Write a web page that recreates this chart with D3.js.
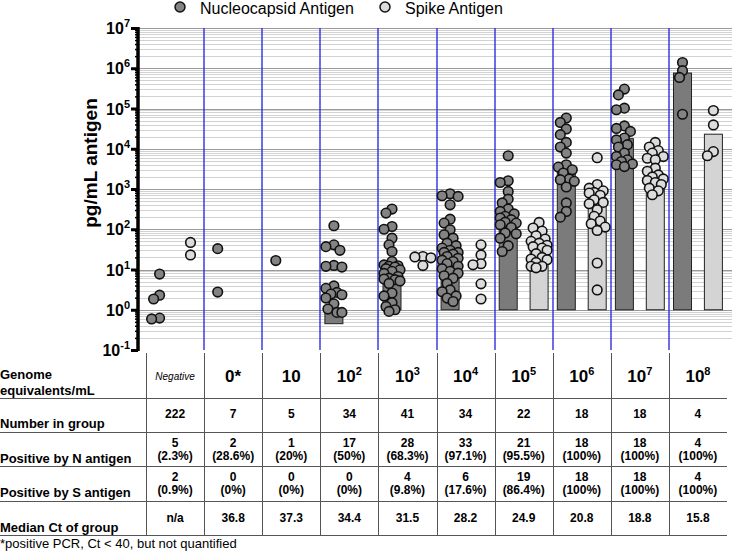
<!DOCTYPE html>
<html>
<head>
<meta charset="utf-8">
<title>Antigen by genome equivalents</title>
<script src="https://cdnjs.cloudflare.com/ajax/libs/d3/7.8.5/d3.min.js"></script>
<style>
  body { margin: 0; background: #fff; }
  svg { font-family: "Liberation Sans", Arial, sans-serif; }
  .grid-minor { stroke: #d2d2d2; stroke-width: 1; }
  .grid-major { stroke: #9a9a9a; stroke-width: 1; }
  .sep { stroke: #2f2fe0; stroke-width: 1.4; }
  .tline { stroke: #555; stroke-width: 1; }
</style>
</head>
<body>
<svg id="chart" width="740" height="551"></svg>
<script>
// header labels, "^" marks the exponent
var groupLabels = ["Negative", "0*", "10", "10^2", "10^3", "10^4", "10^5", "10^6", "10^7", "10^8"];

// pg/mL antigen, one array per group
var nPoints = [
  [7.7, 2.3, 1.85, 0.62, 0.59],
  [33, 2.75],
  [16.7],
  [122, 41, 37, 30, 12.6, 12, 11.5, 3.9, 3.4, 2.7, 2.45, 2.36, 1.95, 1.4, 1.04, 0.86, 0.86],
  [317, 252, 117, 100, 60, 41, 28, 15.8, 13, 12.4, 12, 11.5, 10.5, 9.8, 9, 8, 6.7, 6.1, 5.8, 5.6, 5.2, 4.5, 2.6, 2.2, 1.5, 1.2, 1.0, 0.91],
  [760, 680, 655, 405, 178, 142, 97, 73, 60, 45, 39, 34, 30, 26.6, 26.6, 24, 21, 19, 17, 15.8, 14, 12, 10.5, 9, 8.1, 7, 6.1, 4.5, 3.1, 2.8, 2.2, 1.95, 1.6],
  [6700, 1600, 1450, 870, 560, 450, 317, 277, 240, 209, 190, 173, 150, 142, 129, 110, 81, 77, 60, 39, 28],
  [58000, 45000, 31000, 22400, 14400, 11000, 7800, 4000, 3500, 3000, 2500, 1780, 1700, 1550, 1120, 450, 277, 200],
  [303000, 218000, 102000, 93000, 37000, 32000, 27000, 18500, 16600, 12600, 11000, 7800, 6400, 5300, 4800, 4200, 4000, 3600],
  [1390000, 870000, 590000, 72000]
];
var sPoints = [
  [47, 23],
  [],
  [],
  [],
  [21, 20.5, 19.5, 12.5],
  [41, 23, 13.9, 13.1, 4.4, 1.85],
  [148, 107, 90, 69, 57, 50, 45, 40, 37, 34, 30, 24.7, 20, 18.2, 17.5, 15, 12, 12, 11],
  [6000, 1290, 1050, 900, 820, 790, 700, 540, 465, 430, 305, 209, 160, 137, 113, 93, 14.5, 3.1],
  [14400, 11000, 9000, 7800, 6400, 5800, 5300, 3300, 2750, 2240, 2000, 1780, 1620, 1450, 1290, 1050, 900, 720],
  [89000, 39000, 8500, 6700]
];
// median bars (null = no bar)
var nMedian = [null, null, null, 0.45, 6.2, 20, 150, 3000, 17800, 760000];
var sMedian = [null, null, null, null, null, null, 45, 600, 2000, 23000];

// table
var numberInGroup = [222, 7, 5, 34, 41, 34, 22, 18, 18, 4];
var posNCount = [5, 2, 1, 17, 28, 33, 21, 18, 18, 4];
var posNPct = ["2.3%", "28.6%", "20%", "50%", "68.3%", "97.1%", "95.5%", "100%", "100%", "100%"];
var posSCount = [2, 0, 0, 0, 4, 6, 19, 18, 18, 4];
var posSPct = ["0.9%", "0%", "0%", "0%", "9.8%", "17.6%", "86.4%", "100%", "100%", "100%"];
var medianCt = ["n/a", "36.8", "37.3", "34.4", "31.5", "28.2", "24.9", "20.8", "18.8", "15.8"];

var decades = d3.range(-1, 8);

var svg = d3.select("#chart");
var plotTop = 28, plotBottom = 350, plotLeft = 138, plotRight = 732;

var y = d3.scaleLog().domain([0.1, 1e7]).range([plotBottom, plotTop]);
var x = d3.scaleBand().domain(d3.range(groupLabels.length)).range([146, 727]);
var sub = d3.scalePoint().domain(["N", "S"]).range([0, x.bandwidth()]).padding(0.44);

var colors = { N: "#838383", S: "#dcdcdc" };
var barColors = { N: "#7b7b7b", S: "#d4d4d4" };
var r = 4.8, barW = 18;

function sup(sel, label, supSize, lift) {
  var parts = label.split("^");
  sel.append("tspan").text(parts[0]);
  if (parts[1]) sel.append("tspan").attr("dy", -lift).attr("font-size", supSize).text(parts[1]);
}

// gridlines
var minors = [];
decades.slice(0, -1).forEach(function(d) {
  for (var k = 2; k < 10; k++) minors.push(k * Math.pow(10, d));
});
svg.append("g").selectAll("line").data(minors).enter().append("line")
  .attr("class", "grid-minor")
  .attr("x1", plotLeft).attr("x2", plotRight)
  .attr("y1", function(d) { return Math.round(y(d)) + 0.5; })
  .attr("y2", function(d) { return Math.round(y(d)) + 0.5; });
svg.append("g").selectAll("line").data(decades.slice(1)).enter().append("line")
  .attr("class", "grid-major")
  .attr("x1", plotLeft).attr("x2", plotRight)
  .attr("y1", function(d) { return Math.round(y(Math.pow(10, d))) + 0.5; })
  .attr("y2", function(d) { return Math.round(y(Math.pow(10, d))) + 0.5; });

// blue separators
svg.append("g").selectAll("line").data(d3.range(1, groupLabels.length)).enter().append("line")
  .attr("class", "sep")
  .attr("x1", function(i) { return Math.round(x(i)); })
  .attr("x2", function(i) { return Math.round(x(i)); })
  .attr("y1", plotTop).attr("y2", plotBottom);

// bars
function drawBars(medians, key) {
  svg.append("g").selectAll("rect")
    .data(medians.map(function(m, i) { return { i: i, m: m }; }).filter(function(d) { return d.m != null; }))
    .enter().append("rect")
    .attr("x", function(d) { return x(d.i) + sub(key) - barW / 2; })
    .attr("width", barW)
    .attr("y", function(d) { return Math.min(y(d.m), y(1)); })
    .attr("height", function(d) { return Math.abs(y(1) - y(d.m)); })
    .attr("fill", barColors[key]).attr("stroke", "#222").attr("stroke-width", 1);
}
drawBars(nMedian, "N");
drawBars(sMedian, "S");

// simple beeswarm so points spread sideways like the prism scatter
function swarm(values, cx) {
  var placed = [];
  var sorted = values.slice().sort(function(a, b) { return b - a; });
  var offs = [0, -3, 3, -6, 6, -8, 8];
  return sorted.map(function(v) {
    var py = y(v), best = 0, bestD = -1;
    for (var k = 0; k < offs.length; k++) {
      var px = cx + offs[k], dmin = Infinity;
      placed.forEach(function(p) { dmin = Math.min(dmin, Math.hypot(p.x - px, p.y - py)); });
      if (dmin >= 7) { best = offs[k]; bestD = dmin; break; }
      if (dmin > bestD) { bestD = dmin; best = offs[k]; }
    }
    var pt = { x: cx + best, y: py };
    placed.push(pt);
    return pt;
  });
}

function drawPoints(sets, key) {
  var g = svg.append("g");
  sets.forEach(function(vals, i) {
    var pts = swarm(vals, x(i) + sub(key));
    g.selectAll(null).data(pts).enter().append("circle")
      .attr("cx", function(d) { return d.x; })
      .attr("cy", function(d) { return d.y; })
      .attr("r", r)
      .attr("fill", colors[key]).attr("stroke", "#111").attr("stroke-width", 1.6);
  });
}
drawPoints(nPoints, "N");
drawPoints(sPoints, "S");

// y axis
var yMinor = svg.append("g").attr("transform", "translate(" + plotLeft + ",0)")
  .call(d3.axisLeft(y).tickValues(minors).tickSize(3).tickFormat(""));
yMinor.selectAll(".tick line").attr("stroke-width", 1.5);
var yMajor = svg.append("g").attr("transform", "translate(" + plotLeft + ",0)")
  .call(d3.axisLeft(y).tickValues(decades.map(function(d) { return Math.pow(10, d); })).tickSize(7).tickFormat(""));
yMajor.selectAll(".tick line").attr("stroke-width", 3);
svg.selectAll(".domain").remove();
svg.append("line").attr("x1", plotLeft).attr("x2", plotLeft).attr("y1", plotTop - 1).attr("y2", plotBottom + 1)
  .attr("stroke", "#000").attr("stroke-width", 3.5);

decades.forEach(function(d) {
  var t = svg.append("text").attr("x", 130).attr("y", y(Math.pow(10, d)) + 6)
    .attr("text-anchor", "end").attr("font-size", 16).attr("font-weight", "bold");
  sup(t, "10^" + d, 11, 7);
});

svg.append("text")
  .attr("transform", "translate(97,163) rotate(-90)")
  .attr("text-anchor", "middle").attr("font-size", 19).attr("font-weight", "bold")
  .text("pg/mL antigen");

// legend
svg.append("circle").attr("cx", 180).attr("cy", 7).attr("r", 5).attr("fill", colors.N).attr("stroke", "#111").attr("stroke-width", 1.5);
svg.append("text").attr("x", 200).attr("y", 14).attr("font-size", 16).text("Nucleocapsid Antigen");
svg.append("circle").attr("cx", 385).attr("cy", 7).attr("r", 5).attr("fill", colors.S).attr("stroke", "#111").attr("stroke-width", 1.5);
svg.append("text").attr("x", 405).attr("y", 14).attr("font-size", 16).text("Spike Antigen");

// table
var rowLines = [398, 432, 466, 501, 535];
svg.append("g").selectAll("line").data(rowLines).enter().append("line")
  .attr("class", "tline").attr("x1", 0).attr("x2", 727)
  .attr("y1", function(d) { return d + 0.5; }).attr("y2", function(d) { return d + 0.5; });
svg.append("g").selectAll("line").data(d3.range(groupLabels.length)).enter().append("line")
  .attr("class", "tline")
  .attr("x1", function(i) { return Math.round(x(i)) + 0.5; })
  .attr("x2", function(i) { return Math.round(x(i)) + 0.5; })
  .attr("y1", 353).attr("y2", 535);

var rowLabels = [["Genome", 379], ["equivalents/mL", 395], ["Number in group", 428],
  ["Positive by N antigen", 463], ["Positive by S antigen", 497], ["Median Ct of group", 532]];
rowLabels.forEach(function(l) {
  svg.append("text").attr("x", 0).attr("y", l[1]).attr("font-size", 13).attr("font-weight", "bold").text(l[0]);
});

function colCenter(i) { return x(i) + x.bandwidth() / 2; }
groupLabels.forEach(function(lab, i) {
  if (i === 0) {
    svg.append("text").attr("x", colCenter(i)).attr("y", 380).attr("text-anchor", "middle")
      .attr("font-size", 10).attr("font-style", "italic").text(lab);
  } else {
    var t = svg.append("text").attr("x", colCenter(i)).attr("y", 382).attr("text-anchor", "middle")
      .attr("font-size", 17).attr("font-weight", "bold");
    sup(t, lab, 11, 7);
  }
  function cell(txt, yy) {
    svg.append("text").attr("x", colCenter(i)).attr("y", yy).attr("text-anchor", "middle")
      .attr("font-size", 12).attr("font-weight", "bold").text(txt);
  }
  cell(numberInGroup[i], 418);
  cell(posNCount[i], 447);
  cell("(" + posNPct[i] + ")", 460);
  cell(posSCount[i], 481);
  cell("(" + posSPct[i] + ")", 494);
  cell(medianCt[i], 522);
});

svg.append("text").attr("x", 0).attr("y", 548).attr("font-size", 13)
  .text("*positive PCR, Ct < 40, but not quantified");
</script>
</body>
</html>
